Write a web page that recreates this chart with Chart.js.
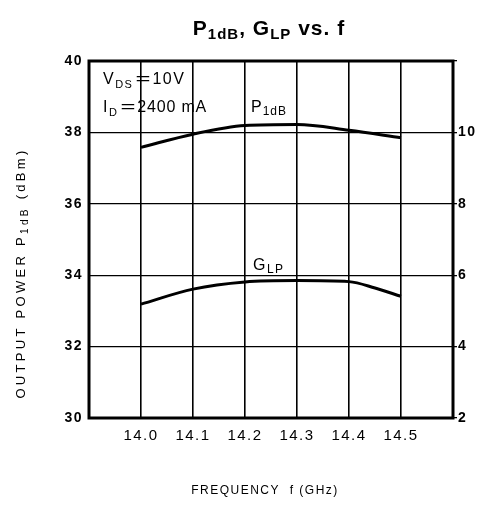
<!DOCTYPE html>
<html><head><meta charset="utf-8">
<script src="https://cdn.jsdelivr.net/npm/chart.js@4"></script>
<style>html,body{margin:0;padding:0;background:#fff}#wrap{width:485px;height:507px;position:relative}</style>
</head><body><div id="wrap"><canvas id="c" width="485" height="507"></canvas></div>
<script>
// ---- data ----
const p1dBFreqs = [14.0, 14.1, 14.2, 14.3, 14.4, 14.5];
const p1dB = [37.58, 37.95, 38.19, 38.22, 38.06, 37.85];          // dBm, left axis
const glpFreqs = [14.0, 14.1, 14.2, 14.3, 14.4, 14.45, 14.5];
const glp = [5.19, 5.61, 5.81, 5.85, 5.82, 5.64, 5.41];            // dB, right axis
const xTickLabels = ['14.0', '14.1', '14.2', '14.3', '14.4', '14.5'];
const leftTickLabels = ['30', '32', '34', '36', '38', '40'];
const rightTickLabels = ['2', '4', '6', '8', '10'];

const FONT = 'Liberation Sans, Arial, sans-serif';

function rich(ctx, parts, x, y, align, spacing) {
  ctx.save();
  ctx.textBaseline = 'alphabetic';
  ctx.textAlign = 'left';
  let total = 0;
  const sp = p => (p.ls !== undefined ? p.ls : (spacing || 0)) + 'px';
  const widths = parts.map(p => {
    ctx.letterSpacing = sp(p);
    ctx.font = (p.w || 'normal') + ' ' + p.s + 'px ' + FONT;
    const w = ctx.measureText(p.t).width * (p.sx || 1) + (p.gap || 0);
    total += w;
    return w;
  });
  let cx = align === 'center' ? x - total / 2 : (align === 'right' ? x - total : x);
  parts.forEach((p, i) => {
    ctx.letterSpacing = sp(p);
    ctx.font = (p.w || 'normal') + ' ' + p.s + 'px ' + FONT;
    ctx.fillStyle = '#000';
    ctx.save();
    ctx.translate(cx, y + (p.dy || 0));
    ctx.scale(p.sx || 1, 1);
    ctx.fillText(p.t, 0, 0);
    ctx.restore();
    cx += widths[i];
  });
  ctx.restore();
}

const decor = {
  id: 'decor',
  beforeDraw(chart) {
    chart.ctx.letterSpacing = '1.5px';
  },
  beforeDatasetsDraw(chart) {
    const {ctx, chartArea: a} = chart;
    ctx.save();
    ctx.letterSpacing = '0px';
    ctx.strokeStyle = '#000';
    ctx.lineWidth = 3;
    ctx.strokeRect(a.left, a.top, a.right - a.left, a.bottom - a.top);
    ctx.restore();
  },
  afterDraw(chart) {
    const ctx = chart.ctx;
    ctx.letterSpacing = '0px';
    // title
    rich(ctx, [
      {t: 'P', s: 21, w: 'bold'},
      {t: '1dB', s: 15, w: 'bold', dy: 4},
      {t: ', G', s: 21, w: 'bold'},
      {t: 'LP', s: 15, w: 'bold', dy: 4},
      {t: ' vs. f', s: 21, w: 'bold'}
    ], 269, 35, 'center', 1);
    // conditions
    rich(ctx, [
      {t: 'V', s: 16},
      {t: 'DS', s: 11, dy: 4, gap: 2},
      {t: '=', s: 16, sx: 1.6, gap: 2, ls: 0},
      {t: '10V', s: 16}
    ], 103, 84, 'left', 1.5);
    rich(ctx, [
      {t: 'I', s: 16},
      {t: 'D', s: 11, dy: 4, gap: 2},
      {t: '=', s: 16, sx: 1.6, gap: 2, ls: 0},
      {t: '2400 mA', s: 16, ls: 0.8}
    ], 103, 112, 'left', 1.5);
    // curve labels
    rich(ctx, [{t: 'P', s: 16}, {t: '1dB', s: 12, dy: 3}], 251, 112, 'left', 1);
    rich(ctx, [{t: 'G', s: 16}, {t: 'LP', s: 12, dy: 3}], 253, 270, 'left', 1.5);
    // axis titles
    rich(ctx, [{t: 'FREQUENCY  f (GHz)', s: 12}], 265, 494, 'center', 1.5);
    ctx.save();
    ctx.translate(25, 273);
    ctx.rotate(-Math.PI / 2);
    rich(ctx, [
      {t: 'OUTPUT POWER P', s: 13},
      {t: '1dB', s: 10, dy: 3},
      {t: ' (dBm)', s: 13}
    ], 0, 0, 'center', 3.3);
    ctx.restore();
  }
};

new Chart(document.getElementById('c'), {
  type: 'line',
  data: {
    datasets: [
      {
        label: 'P1dB',
        data: p1dBFreqs.map((f, i) => ({x: f, y: p1dB[i]})),
        yAxisID: 'y',
        borderColor: '#000', borderWidth: 3, pointRadius: 0,
        cubicInterpolationMode: 'monotone', fill: false
      },
      {
        label: 'GLP',
        data: glpFreqs.map((f, i) => ({x: f, y: glp[i]})),
        yAxisID: 'y2',
        borderColor: '#000', borderWidth: 3, pointRadius: 0,
        cubicInterpolationMode: 'monotone', fill: false
      }
    ]
  },
  options: {
    responsive: false,
    animation: false,
    devicePixelRatio: 1,
    layout: {padding: {top: 61, left: 0, right: 0, bottom: 0}},
    plugins: {legend: {display: false}, title: {display: false}, tooltip: {enabled: false}},
    scales: {
      x: {
        type: 'linear', min: 13.9, max: 14.6,
        afterFit: s => { s.height = 89; },
        border: {display: false},
        grid: {color: '#000', lineWidth: 1.6, drawTicks: false},
        ticks: {
          stepSize: 0.1, autoSkip: false, maxRotation: 0, padding: 9,
          color: '#000', font: {family: FONT, size: 15},
          callback: v => { const s = Number(v).toFixed(1); return xTickLabels.includes(s) ? s : ''; }
        }
      },
      y: {
        position: 'left', min: 30, max: 40,
        afterFit: s => { s.width = 89; },
        border: {display: false},
        grid: {color: '#000', lineWidth: 1.3, drawTicks: false},
        ticks: {
          stepSize: 2, padding: 6, color: '#000',
          font: {family: FONT, size: 14, weight: 'bold'},
          callback: v => leftTickLabels.includes(String(v)) ? String(v) : ''
        }
      },
      y2: {
        position: 'right', min: 2, max: 12,
        afterFit: s => { s.width = 32; },
        border: {display: false},
        grid: {drawOnChartArea: false, color: '#000', lineWidth: 1.3, tickLength: 4},
        ticks: {
          stepSize: 2, padding: 1, color: '#000',
          font: {family: FONT, size: 14, weight: 'bold'},
          callback: v => rightTickLabels.includes(String(v)) ? String(v) : ''
        }
      }
    }
  },
  plugins: [decor]
});
</script></body></html>
